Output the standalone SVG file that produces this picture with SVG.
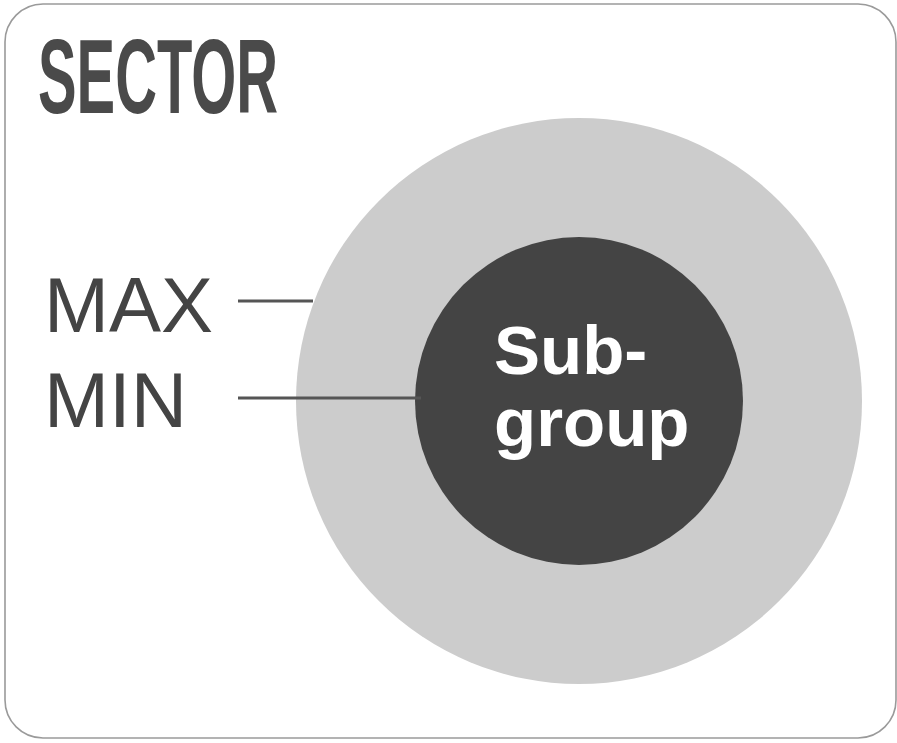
<svg xmlns="http://www.w3.org/2000/svg" width="897" height="743" viewBox="0 0 897 743">
<style>
.lbl{font-family:"Liberation Sans",Arial,sans-serif;font-size:78px;fill:#444444}
.sub{font-family:"Liberation Sans",Arial,sans-serif;font-size:69px;font-weight:bold;fill:#ffffff}
.conn{stroke:#555555;stroke-width:3}
</style>
<rect x="5" y="4" width="891" height="734" rx="38" ry="38" fill="#ffffff" stroke="#9a9a9a" stroke-width="1.6"/>
<g id="title"><text x="38" y="113" font-family="'Liberation Sans',Arial,sans-serif" font-weight="bold" font-size="106" fill="#4a4a4a" textLength="240" lengthAdjust="spacingAndGlyphs">SECTOR</text></g>
<g id="sector"><circle cx="579" cy="401" r="283" fill="#cccccc"/></g>
<g id="subgroup"><circle cx="579" cy="401" r="164" fill="#444444"/>
<text class="sub" x="494" y="374">Sub-</text>
<text class="sub" x="494" y="446">group</text></g>
<g id="connectors">
<line class="conn" x1="238" y1="301" x2="313" y2="301"/>
<line class="conn" x1="238" y1="398" x2="421" y2="398"/>
</g>
<g id="max"><text class="lbl" x="44" y="332">MAX</text></g>
<g id="min"><text class="lbl" x="44" y="427">MIN</text></g>
</svg>
